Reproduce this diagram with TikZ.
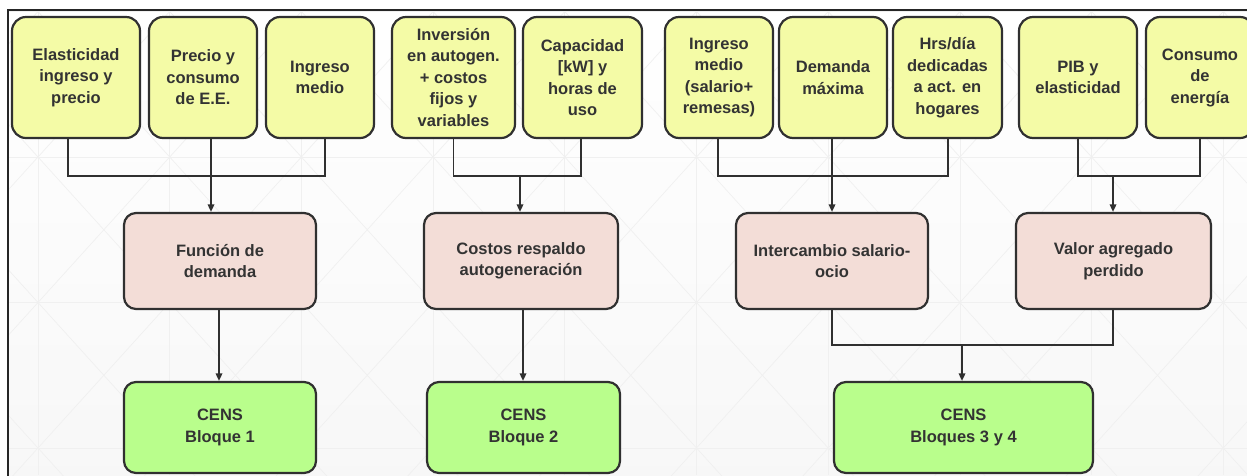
\documentclass[tikz,border=0pt]{standalone}
\usepackage{fontspec}
\setmainfont{Liberation Sans}
\usetikzlibrary{arrows.meta}
\definecolor{yel}{HTML}{F4FBA6}
\definecolor{pnk}{HTML}{F3DDD7}
\definecolor{grn}{HTML}{B9FE8C}
\definecolor{edgec}{HTML}{303030}
\definecolor{txt}{HTML}{333333}
\definecolor{gridc}{HTML}{F0F0F0}
\begin{document}
\begin{tikzpicture}[x=1pt,y=-1pt,
  box/.style={draw=edgec, line width=2.2pt, rounded corners=14pt, align=center, text=txt,
    font=\bfseries\fontsize{16.5}{21.5}\selectfont, inner sep=0pt},
  inbox/.style={box, fill=yel, minimum height=121pt},
  midbox/.style={box, fill=pnk, minimum height=96pt, rounded corners=12pt},
  outbox/.style={box, fill=grn, minimum height=91pt, rounded corners=12pt},
  conn/.style={draw=edgec, line width=1.6pt},
  arr/.style={conn, -{Triangle[length=7.5pt,width=6.5pt]}},
  gridline/.style={draw=gridc, line width=0.7pt}]
\clip (0,0) rectangle (1247,475);
\fill[white] (0,0) rectangle (1247,475);
% background with faint grid
\begin{scope}
\clip (8,9.5) rectangle (1247,475);
\shade[top color=white, bottom color=black!3] (8,9.5) rectangle (1247,475);
\foreach \i in {0,...,9} \draw[gridline] ({38+131.7*\i},0) -- ({38+131.7*\i},475);
\foreach \j in {0,...,3} \draw[gridline] (0,{11.5+145.5*\j}) -- (1247,{11.5+145.5*\j});
\foreach \i in {-1,...,9} \foreach \j in {0,...,3} {
  \draw[gridline] ({38+131.7*\i},{11.5+145.5*\j}) -- ({38+131.7*(\i+1)},{11.5+145.5*(\j+1)});
  \draw[gridline] ({38+131.7*(\i+1)},{11.5+145.5*\j}) -- ({38+131.7*\i},{11.5+145.5*(\j+1)});
}
\end{scope}
% frame
\draw[line width=2pt, black!85] (8,480) -- (8,9.5) -- (1250,9.5);

% input boxes
\node[inbox, minimum width=128pt] (A) at (76,77.5) {Elasticidad\\ingreso y\\precio};
\node[inbox, minimum width=108pt] (B) at (203,77.5) {Precio y\\consumo\\de E.E.};
\node[inbox, minimum width=108pt] (C) at (320,77.5) {Ingreso\\medio};
\node[inbox, minimum width=123pt] (D) at (453.5,77.5) {Inversión\\en autogen.\\+ costos\\fijos y\\variables};
\node[inbox, minimum width=119pt] (E) at (582.5,77.5) {Capacidad\\{[kW]} y\\horas de\\uso};
\node[inbox, minimum width=108pt] (F) at (719,77.5) {Ingreso\\medio\\(salario+\\remesas)};
\node[inbox, minimum width=108pt] (G) at (833,77.5) {Demanda\\máxima};
\node[inbox, minimum width=109pt] (H) at (947.5,77.5) {Hrs/día\\dedicadas\\a act. en\\hogares};
\node[inbox, minimum width=118pt] (I) at (1078,77.5) {PIB y\\elasticidad};
\node[inbox, minimum width=108pt] (J) at (1200,77.5) {Consumo\\de\\energía};

% middle boxes
\node[midbox, minimum width=192pt] (P1) at (220,261) {Función de\\demanda};
\node[midbox, minimum width=194pt] (P2) at (521,261) {Costos respaldo\\autogeneración};
\node[midbox, minimum width=192pt] (P3) at (832,261) {Intercambio salario-\\ocio};
\node[midbox, minimum width=195pt] (P4) at (1113.5,261) {Valor agregado\\perdido};

% output boxes
\node[outbox, minimum width=192pt] (G1) at (220,427.5) {CENS\\Bloque 1};
\node[outbox, minimum width=193pt] (G2) at (523.5,427.5) {CENS\\Bloque 2};
\node[outbox, minimum width=259pt] (G3) at (963.5,427.5) {CENS\\Bloques 3 y 4};

% junction coordinates
\coordinate (m2) at (520,175);
\coordinate (m4) at (1113,175);
\coordinate (m5) at (962,344);

% group 1
\draw[conn] ([xshift=-8pt]A.south) -- ++(0,37) -| ([xshift=5pt]C.south);
\draw[arr] ([xshift=8pt]B.south) -- ([xshift=8pt]B.south |- P1.north);
\draw[arr] ([xshift=-1pt]P1.south) -- ([xshift=-1pt]P1.south |- G1.north);
% group 2
\draw[conn] (D.south) -- ++(0,37) -| ([xshift=-1.5pt]E.south);
\draw[arr] (m2) -- (m2 |- P2.north);
\draw[arr] ([xshift=2pt]P2.south) -- ([xshift=2pt]P2.south |- G2.north);
% group 3
\draw[conn] ([xshift=-1pt]F.south) -- ++(0,37) -| ([xshift=0.5pt]H.south);
\draw[arr] ([xshift=-1pt]G.south) -- ([xshift=-1pt]G.south |- P3.north);
% group 4
\draw[conn] (I.south) -- ++(0,37) -| (J.south);
\draw[arr] (m4) -- (m4 |- P4.north);
% bottom group
\draw[conn] (P3.south) -- ++(0,35) -| ([xshift=-0.5pt]P4.south);
\draw[arr] (m5) -- (m5 |- G3.north);
\end{tikzpicture}
\end{document}
